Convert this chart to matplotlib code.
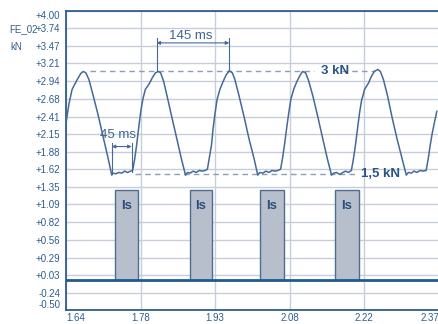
"""
Force trace FE_02 (kN) with the Is current pulses underneath.
"""
import matplotlib
matplotlib.use("Agg")
import matplotlib.pyplot as plt

plt.rcParams["font.family"] = ["Liberation Sans", "DejaVu Sans"]

# force trace, time in s, force in kN
trace_t = [
    1.640, 1.646, 1.652, 1.658, 1.663, 1.669, 1.674, 1.679, 1.685, 1.693,
    1.703, 1.712, 1.722, 1.730, 1.732, 1.738, 1.744, 1.750, 1.755, 1.761,
    1.767, 1.771, 1.775, 1.779, 1.783, 1.787, 1.791, 1.796, 1.804, 1.810,
    1.816, 1.821, 1.826, 1.832, 1.839, 1.849, 1.859, 1.867, 1.875, 1.879,
    1.884, 1.890, 1.896, 1.902, 1.908, 1.914, 1.918, 1.922, 1.926, 1.929,
    1.933, 1.937, 1.943, 1.949, 1.955, 1.961, 1.967, 1.972, 1.980, 1.990,
    2.000, 2.010, 2.017, 2.021, 2.027, 2.033, 2.039, 2.045, 2.051, 2.057,
    2.062, 2.066, 2.070, 2.074, 2.078, 2.082, 2.088, 2.094, 2.100, 2.105,
    2.111, 2.117, 2.125, 2.135, 2.145, 2.154, 2.162, 2.166, 2.172, 2.178,
    2.184, 2.190, 2.195, 2.201, 2.205, 2.209, 2.213, 2.217, 2.221, 2.227,
    2.235, 2.240, 2.246, 2.253, 2.258, 2.264, 2.272, 2.281, 2.291, 2.301,
    2.309, 2.313, 2.319, 2.324, 2.330, 2.336, 2.342, 2.348, 2.352, 2.356,
    2.360, 2.364, 2.369,
]
trace_kn = [
    2.31, 2.61, 2.82, 2.91, 2.98, 3.06, 3.09, 3.07, 2.97, 2.74,
    2.44, 2.14, 1.81, 1.53, 1.56, 1.55, 1.57, 1.56, 1.59, 1.57,
    1.59, 1.60, 1.77, 1.99, 2.25, 2.49, 2.67, 2.82, 2.91, 3.00,
    3.07, 3.09, 3.07, 2.94, 2.71, 2.37, 2.04, 1.77, 1.53, 1.57,
    1.56, 1.59, 1.57, 1.60, 1.59, 1.60, 1.62, 1.80, 1.98, 2.22,
    2.46, 2.67, 2.83, 2.94, 3.04, 3.10, 3.07, 2.97, 2.73, 2.41,
    2.07, 1.77, 1.53, 1.57, 1.56, 1.59, 1.57, 1.60, 1.59, 1.60,
    1.62, 1.80, 2.01, 2.25, 2.47, 2.67, 2.83, 2.94, 3.03, 3.09,
    3.07, 2.95, 2.73, 2.41, 2.07, 1.77, 1.53, 1.56, 1.57, 1.54,
    1.57, 1.59, 1.57, 1.60, 1.77, 1.98, 2.22, 2.46, 2.65, 2.82,
    2.92, 3.01, 3.09, 3.12, 3.09, 2.97, 2.73, 2.40, 2.07, 1.77,
    1.53, 1.57, 1.56, 1.59, 1.57, 1.60, 1.59, 1.60, 1.77, 1.98,
    2.16, 2.31, 2.49,
]

# Is pulses
pulse_start = [1.736, 1.883, 2.021, 2.168]
pulse_end = [1.781, 1.928, 2.068, 2.217]
pulse_high = 1.30
pulse_low = -0.05

# reference levels
level_high = 3.10
level_low = 1.55

y_ticks = [4.00, 3.74, 3.47, 3.21, 2.94, 2.68, 2.41, 2.15, 1.88, 1.62,
           1.35, 1.09, 0.82, 0.56, 0.29, 0.03, -0.24, -0.50]
x_ticks = [1.64, 1.7867, 1.9333, 2.08, 2.2267, 2.3733]
x_labels = ["1.64", "1.78", "1.93", "2.08", "2.22", "2.37"]

blue = "#2f5d8c"
trace_col = "#46699a"
grid_col = "#c6cedb"
dash_col = "#8d9db5"

fig = plt.figure(figsize=(4.39, 3.24), dpi=100)
ax = fig.add_axes([66 / 439, 14 / 324, 373 / 439, 299 / 324])

ax.set_xlim(1.64, 2.3733)
ax.set_ylim(-0.50, 4.00)
ax.set_yticks(y_ticks)
ax.set_yticklabels(["%+.2f" % v for v in y_ticks])
ax.set_xticks(x_ticks)
ax.set_xticklabels(x_labels)
ax.tick_params(axis="y", length=0, labelsize=7, labelcolor=blue, pad=4)
ax.tick_params(axis="x", length=0, labelsize=7, labelcolor=blue, pad=2)
ax.grid(True, color=grid_col, lw=1.0, zorder=0)
ax.set_axisbelow(True)

ylab = ax.get_yticklabels()
ylab[0].set_va("top")
ylab[-1].set_va("bottom")
xlab = ax.get_xticklabels()
xlab[0].set_ha("left")
xlab[-1].set_ha("right")

for side in ["top", "left", "bottom"]:
    ax.spines[side].set_color(blue)
    ax.spines[side].set_linewidth(1.3)
ax.spines["right"].set_visible(False)

# pulses
widths = [e - s for s, e in zip(pulse_start, pulse_end)]
ax.bar(pulse_start, pulse_high - pulse_low, width=widths, bottom=pulse_low,
       align="edge", color="#b6bfcb", edgecolor="#4f6d92", lw=1.0, zorder=2)
for s, e in zip(pulse_start, pulse_end):
    ax.text((s + e) / 2, 1.06, "Is", ha="center", va="center",
            fontsize=9.5, fontweight="bold", color="#2b4f7c", zorder=4)
ax.axhline(pulse_low, color="#1f5b8f", lw=2.0, zorder=3)

# reference levels
ax.plot([1.687, 2.127], [level_high, level_high], ls=(0, (4, 3)), color=dash_col, lw=1.0, zorder=2)
ax.plot([2.183, 2.248], [level_high, level_high], ls=(0, (4, 3)), color=dash_col, lw=1.0, zorder=2)
ax.text(2.168, level_high, "3 kN", ha="center", va="center", fontsize=9.5,
        fontweight="bold", color="#2b5585")
ax.plot([1.775, 2.211], [level_low, level_low], ls=(0, (4, 3)), color=dash_col, lw=1.0, zorder=2)
ax.text(2.258, level_low, "1,5 kN", ha="center", va="center", fontsize=9.5,
        fontweight="bold", color="#2b5585")

ax.plot(trace_t, trace_kn, color=trace_col, lw=1.1, zorder=5)

# 145 ms period marker
for t, v in [(1.818, 3.09), (1.961, 3.10)]:
    ax.plot([t, t], [v, 3.60], color=trace_col, lw=0.8, zorder=5)
ax.annotate("", xy=(1.961, 3.52), xytext=(1.818, 3.52),
            arrowprops=dict(arrowstyle="<|-|>", color=trace_col, lw=0.8,
                            mutation_scale=5, shrinkA=0, shrinkB=0))
ax.text(1.885, 3.63, "145 ms", ha="center", va="center", fontsize=9.5, color="#3e6592")

# 45 ms dwell marker
for t in [1.730, 1.769]:
    ax.plot([t, t], [1.58, 2.02], color=trace_col, lw=0.8, zorder=5)
ax.annotate("", xy=(1.769, 1.96), xytext=(1.730, 1.96),
            arrowprops=dict(arrowstyle="<|-|>", color=trace_col, lw=0.8,
                            mutation_scale=5, shrinkA=0, shrinkB=0))
ax.text(1.743, 2.14, "45 ms", ha="center", va="center", fontsize=9.5, color="#3e6592")

fig.text(9 / 439, 1 - 29 / 324, "FE_02", ha="left", va="center", fontsize=7, color=blue)
fig.text(10 / 439, 1 - 47 / 324, "kN", ha="left", va="center", fontsize=7, color=blue)

fig.savefig("out.png", dpi=100)
